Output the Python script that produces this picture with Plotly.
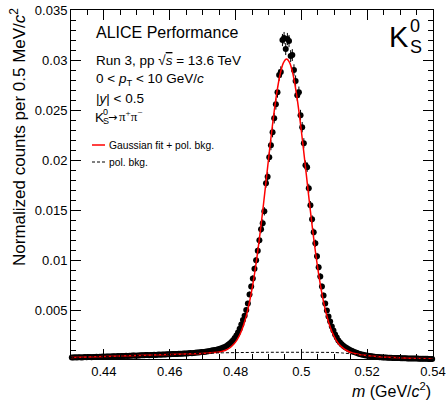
import numpy as np
import plotly.graph_objects as go

# ---------------- data ----------------
bin_start = 0.43
bin_width = 0.0005  # 0.5 MeV bins
counts = [
    0.00031,0.00030,0.00032,0.00031,0.00033,0.00032,0.00031,0.00033,0.00034,0.00032,
    0.00034,0.00035,0.00033,0.00036,0.00035,0.00037,0.00036,0.00038,0.00037,0.00039,
    0.00038,0.00040,0.00039,0.00041,0.00040,0.00042,0.00043,0.00041,0.00044,0.00043,
    0.00045,0.00044,0.00046,0.00047,0.00045,0.00048,0.00047,0.00049,0.00050,0.00048,
    0.00051,0.00050,0.00052,0.00053,0.00052,0.00054,0.00055,0.00053,0.00056,0.00055,
    0.00057,0.00056,0.00058,0.00059,0.00058,0.00060,0.00061,0.00060,0.00062,0.00063,
    0.00062,0.00064,0.00065,0.00064,0.00066,0.00067,0.00068,0.00067,0.00069,0.00070,
    0.00071,0.00072,0.00074,0.00073,0.00076,0.00077,0.00079,0.00080,0.00082,0.00084,
    0.00086,0.00088,0.00091,0.00093,0.00096,0.00099,0.00102,0.00105,0.00108,0.00112,
    0.00118,0.00123,0.00129,0.00136,0.00145,0.00158,0.00170,0.00185,0.00203,0.00225,
    0.00250,0.00280,0.00318,0.00360,0.00405,0.00448,0.00505,0.00570,0.00660,0.00740,
    0.00820,0.00915,0.01000,0.01095,0.01200,0.01310,0.01370,0.01490,0.01770,0.01835,
    0.02030,0.02150,0.02280,0.02420,0.02560,0.02680,0.02850,0.02880,0.03200,0.03220,
    0.03110,0.03210,0.03190,0.03040,0.03050,0.02900,0.02790,0.02650,0.02680,0.02450,
    0.02330,0.02170,0.01950,0.01930,0.01720,0.01550,0.01410,0.01280,0.01170,0.01040,
    0.00930,0.00840,0.00740,0.00650,0.00570,0.00500,0.00440,0.00390,0.00340,0.00300,
    0.00260,0.00230,0.00200,0.00180,0.00162,0.00148,0.00135,0.00124,0.00114,0.00105,
    0.00097,0.00090,0.00083,0.00077,0.00071,0.00066,0.00061,0.00057,0.00053,0.00050,
    0.00047,0.00044,0.00042,0.00040,0.00038,0.00036,0.00035,0.00033,0.00032,0.00031,
    0.00030,0.00029,0.00028,0.00028,0.00027,0.00026,0.00026,0.00025,0.00024,0.00024,
    0.00023,0.00023,0.00022,0.00022,0.00021,0.00021,0.00020,0.00020,0.00019,0.00019,
    0.00019,0.00018,0.00018,0.00018,0.00017,0.00017,0.00017,0.00016,0.00016,0.00016,
]
mass = [bin_start + bin_width * (i + 0.5) for i in range(len(counts))]
# Poisson-like statistical uncertainty scale
err_scale = 0.0034
errors = [err_scale * np.sqrt(v) for v in counts]

fit_x = [0.430, 0.440, 0.450, 0.460, 0.470,
         0.4705, 0.4735, 0.4755, 0.4765, 0.4775, 0.4785, 0.4795, 0.4805, 0.4815,
         0.4825, 0.4835, 0.4845, 0.4855, 0.4865, 0.4875, 0.4885, 0.4895, 0.4905,
         0.4915, 0.4925, 0.4935, 0.4945, 0.4955, 0.4965, 0.4975, 0.4985, 0.4995,
         0.5005, 0.5015, 0.5025, 0.5035, 0.5045, 0.5055, 0.5065, 0.5075, 0.5085,
         0.5095, 0.5105, 0.5115, 0.5125, 0.5135, 0.5145, 0.5155, 0.5165, 0.5175,
         0.520, 0.523, 0.526, 0.530, 0.535, 0.540]
fit_y = [0.00030, 0.00040, 0.00050, 0.00060, 0.00071,
         0.00072, 0.00079, 0.00088, 0.00097, 0.00112, 0.00132, 0.00164, 0.00209, 0.00272,
         0.00360, 0.00476, 0.00626, 0.00811, 0.01031, 0.01285, 0.01563, 0.01857, 0.02150,
         0.02426, 0.02666, 0.02851, 0.02970, 0.03010, 0.02970, 0.02851, 0.02666, 0.02426,
         0.02150, 0.01857, 0.01563, 0.01285, 0.01031, 0.00811, 0.00626, 0.00476, 0.00360,
         0.00272, 0.00207, 0.00160, 0.00128, 0.00105, 0.00088, 0.00076, 0.00068, 0.00060,
         0.00049, 0.00040, 0.00033, 0.00027, 0.00021, 0.00017]

bkg_x = [0.430, 0.440, 0.450, 0.460, 0.470, 0.475, 0.480, 0.490, 0.500, 0.510,
         0.5125, 0.515, 0.5175, 0.520, 0.523, 0.526, 0.530, 0.535, 0.540]
bkg_y = [0.00030, 0.00040, 0.00050, 0.00060, 0.00071, 0.00076, 0.00079, 0.00082, 0.00082, 0.00080,
         0.00075, 0.00067, 0.00057, 0.00049, 0.00040, 0.00033, 0.00027, 0.00021, 0.00017]

x_tick_vals = [0.44, 0.46, 0.48, 0.50, 0.52, 0.54]
x_tick_text = ["0.44", "0.46", "0.48", "0.5", "0.52", "0.54"]
y_tick_vals = [0.005, 0.010, 0.015, 0.020, 0.025, 0.030, 0.035]
y_tick_text = ["0.005", "0.01", "0.015", "0.02", "0.025", "0.03", "0.035"]

# ---------------- layout geometry ----------------
W, H = 446, 404
PLOT_L, PLOT_R, PLOT_T, PLOT_B = 71, 433, 10, 359
L, R, T, B = PLOT_L, W - PLOT_R, PLOT_T, H - PLOT_B
PW, PH = PLOT_R - PLOT_L, PLOT_B - PLOT_T
FONT = "Liberation Sans, Arial, Helvetica, sans-serif"
SERIF = "Liberation Serif, Times New Roman, serif"
SYMB = "DejaVu Sans, sans-serif"


def px(xp):
    return (xp - PLOT_L) / PW


def py(yp):
    return (PLOT_B - yp) / PH


fig = go.Figure()

fig.add_trace(go.Scatter(
    x=mass, y=counts, mode="markers",
    marker=dict(symbol="circle", size=6, color="black"),
    error_y=dict(type="data", array=errors, visible=True, color="black", thickness=1, width=0),
    cliponaxis=False, showlegend=False, hoverinfo="skip"))

fig.add_trace(go.Scatter(
    x=fit_x, y=fit_y, mode="lines", line=dict(color="#ff0000", width=1.5, shape="spline", smoothing=0.8),
    showlegend=False, hoverinfo="skip"))

fig.add_trace(go.Scatter(
    x=bkg_x, y=bkg_y, mode="lines", line=dict(color="black", width=1, dash="3px,2px", shape="spline", smoothing=0.6),
    showlegend=False, hoverinfo="skip"))

axis_common = dict(
    showgrid=False, zeroline=False, showline=True, linecolor="black", linewidth=1,
    mirror="ticks", ticks="inside", ticklen=10, tickwidth=1, tickcolor="black",
    tickfont=dict(family=FONT, size=13, color="black"),
    ticklabeloverflow="allow", automargin=False,
)

fig.update_xaxes(
    range=[0.43, 0.5400001], tickmode="array", tickvals=x_tick_vals, ticktext=x_tick_text,
    minor=dict(tickmode="linear", tick0=0.43, dtick=0.005, ticks="inside", ticklen=5,
               tickcolor="black", tickwidth=1, showgrid=False),
    **axis_common)
fig.update_yaxes(
    range=[0.00015, 0.035001], tickmode="array", tickvals=y_tick_vals, ticktext=y_tick_text,
    minor=dict(tickmode="linear", tick0=0, dtick=0.001, ticks="inside", ticklen=5,
               tickcolor="black", tickwidth=1, showgrid=False),
    **axis_common)

ann = []


def text(xp, yp, s, size, xanchor="left", yanchor="middle", family=FONT, angle=0):
    ann.append(dict(x=px(xp), y=py(yp), xref="paper", yref="paper", text=s, showarrow=False,
                    xanchor=xanchor, yanchor=yanchor, textangle=angle,
                    font=dict(family=family, size=size, color="black")))


# axis titles
text(18, 6, "Normalized counts per 0.5 MeV/<i>c</i><sup>2</sup>", 17, xanchor="center", yanchor="top", angle=-90)
text(433, 390, "<i>m</i> (GeV/<i>c</i><sup>2</sup>)", 16, xanchor="right")

# info block
text(94, 33, "ALICE Performance", 16)
text(94, 60, "Run 3, pp \u221a<span style='text-decoration:overline'><i>s</i></span> = 13.6 TeV", 13.5)
text(94, 79, "0 &lt; <i>p</i><sub>T</sub> &lt; 10 GeV/<i>c</i>", 13.5)
text(94, 98, "|<i>y</i>| &lt; 0.5", 13.5)
# K0S -> pi+ pi-
text(93, 117, "K", 13.5)
text(101, 112, "0", 9)
text(101, 121, "S", 9)
text(106, 117, "\u2192", 11, family=SYMB)
text(117, 116, "\u03c0<sup>+</sup>\u03c0<sup>\u2212</sup>", 13, family=SERIF)

# legend
text(107, 145, "Gaussian fit + pol. bkg.", 10.3)
text(107, 162, "pol. bkg.", 10.3)

# big K0S label
text(387, 37, "K", 29)
text(408, 26, "0", 18)
text(408, 47, "S", 18)

shapes = [
    dict(type="line", xref="paper", yref="paper", x0=px(92), x1=px(105), y0=py(145), y1=py(145),
         line=dict(color="#ff0000", width=1.5)),
    dict(type="line", xref="paper", yref="paper", x0=px(92), x1=px(105), y0=py(162), y1=py(162),
         line=dict(color="black", width=1, dash="3px,2px")),
]

fig.update_layout(
    width=W, height=H, margin=dict(l=L, r=R, t=T, b=B, pad=0, autoexpand=False),
    paper_bgcolor="white", plot_bgcolor="white",
    annotations=ann, shapes=shapes, showlegend=False,
    font=dict(family=FONT, color="black"),
)

fig.write_html("out.html", config={"displayModeBar": False, "staticPlot": True},
               post_script="document.body.style.margin='0';document.body.style.overflow='hidden';")
